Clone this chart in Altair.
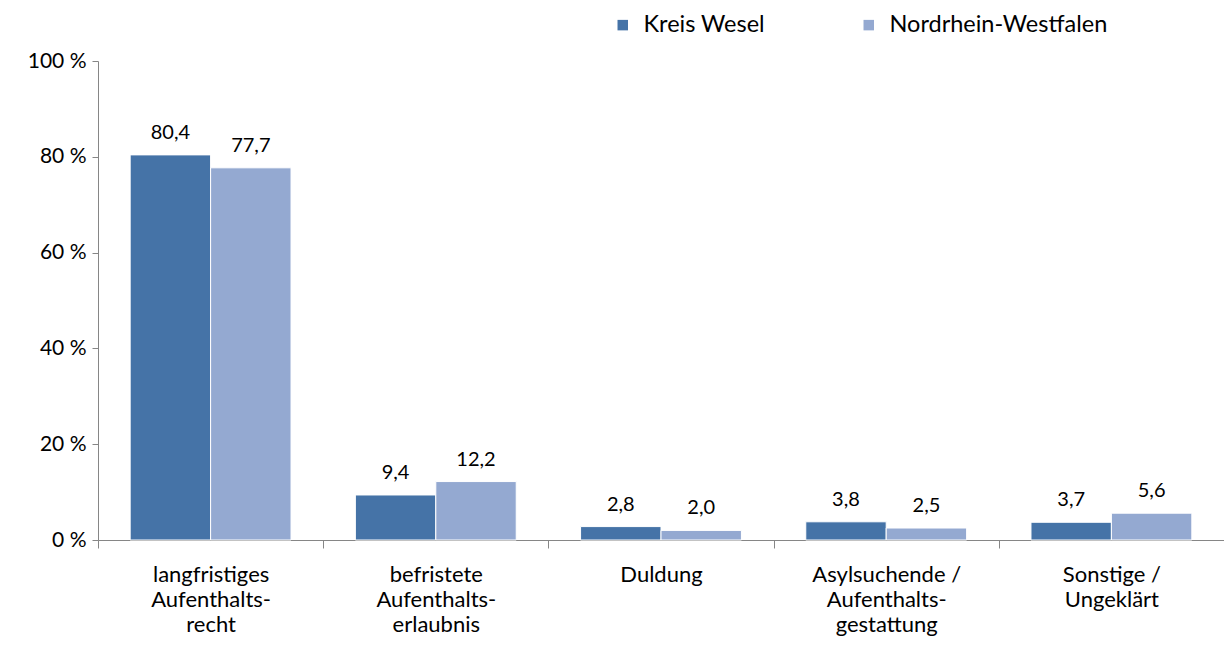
import altair as alt
import pandas as pd

categories = ["langfristiges|Aufenthalts-|recht", "befristete|Aufenthalts-|erlaubnis", "Duldung",
              "Asylsuchende /|Aufenthalts-|gestattung", "Sonstige /|Ungeklärt"]
series = ["Kreis Wesel", "Nordrhein-Westfalen"]
kreis_wesel = [80.4, 9.4, 2.8, 3.8, 3.7]
nrw = [77.7, 12.2, 2.0, 2.5, 5.6]
colors = ["#4573A7", "#94A9D1"]

rows = []
for c, a, b in zip(categories, kreis_wesel, nrw):
    rows.append({"cat": c, "series": series[0], "value": a})
    rows.append({"cat": c, "series": series[1], "value": b})
df = pd.DataFrame(rows)

FONT = "Lato"

x = alt.X("cat:N", sort=categories, title=None,
          scale=alt.Scale(paddingInner=0, paddingOuter=0),
          axis=alt.Axis(labelAngle=0, labelExpr="split(datum.label, '|')",
                        ticks=True, tickBand="extent", tickSize=8, tickColor="#868686",
                        domainColor="#868686", labelFontSize=22, labelLineHeight=25,
                        labelPadding=16, labelColor="#000000", labelFont=FONT,
                        labelBaseline="top", labelLimit=0))
xo = alt.XOffset("series:N", scale=alt.Scale(domain=series, paddingInner=0, paddingOuter=0.4))

bars = alt.Chart(df).mark_bar(stroke="white", strokeWidth=1).encode(
    x=x, xOffset=xo,
    y=alt.Y("value:Q", scale=alt.Scale(domain=[0, 100]), title=None,
            axis=alt.Axis(values=[0, 20, 40, 60, 80, 100], labelExpr="datum.value + ' %'",
                          grid=False, tickSize=6, tickColor="#868686", domainColor="#868686",
                          labelFontSize=21, labelColor="#000000", labelFont=FONT, labelPadding=6)),
    color=alt.Color("series:N", scale=alt.Scale(domain=series, range=colors), title=None,
                    legend=alt.Legend(orient="none", legendX=513, legendY=-48, direction="horizontal",
                                      columns=2, symbolType="square", symbolSize=110,
                                      symbolStrokeWidth=0, labelFontSize=23.5, labelFont=FONT,
                                      labelColor="#000000", columnPadding=92, labelOffset=9,
                                      labelLimit=0)),
)

labels = alt.Chart(df).transform_calculate(
    lbl="replace(format(datum.value, '.1f'), '.', ',')"
).mark_text(dy=-22, fontSize=20, font=FONT, color="#000000").encode(
    x=x, xOffset=xo, y="value:Q", text="lbl:N"
)

chart = alt.layer(bars, labels).properties(
    width=1126, height=479,
    autosize=alt.AutoSizeParams(type="none"),
    padding={"left": 90, "top": 53, "right": 0, "bottom": 98},
).configure_view(stroke=None)

chart.save("out.html", embed_options={"renderer": "svg", "actions": False})
